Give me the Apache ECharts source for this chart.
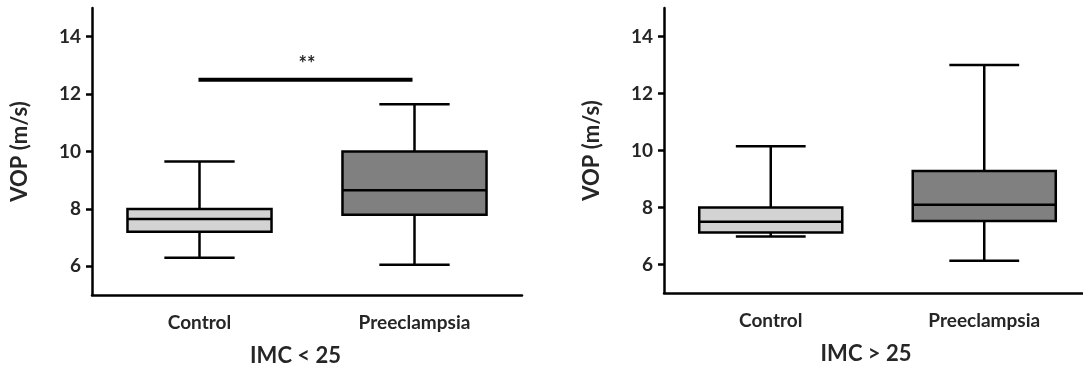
<!DOCTYPE html>
<html><head><meta charset="utf-8">
<script src="https://cdn.jsdelivr.net/npm/echarts@6/dist/echarts.min.js"></script>
<style>html,body{margin:0;padding:0;background:#fff;}#c{width:1083px;height:365px;}</style>
</head><body><div id="c"></div>
<script>
// Data
var categories = ['Control', 'Preeclampsia'];
var yTicks = [6, 8, 10, 12, 14];
var yName = 'VOP (m/s)';
var panelNames = ['IMC < 25', 'IMC > 25'];
// [min, Q1, median, Q3, max]
var leftControl = [6.3, 7.2, 7.65, 8.0, 9.65];
var leftPreeclampsia = [6.05, 7.8, 8.65, 10.0, 11.65];
var rightControl = [6.98, 7.12, 7.5, 8.0, 10.15];
var rightPreeclampsia = [6.13, 7.53, 8.1, 9.28, 13.0];
var boxColors = ['#d3d3d3', '#808080'];
var sigY = 12.5;
var sigLabel = '**';

var FONT = 'Lato';
var TXT = '#262626';
var LW = 2.5;

function boxRender(params, api) {
  var ci = api.value(0);
  var mn = api.coord([ci, api.value(1)]);
  var q1 = api.coord([ci, api.value(2)]);
  var md = api.coord([ci, api.value(3)]);
  var q3 = api.coord([ci, api.value(4)]);
  var mx = api.coord([ci, api.value(5)]);
  var band = api.size([1, 0])[0];
  var bw = band * 0.67, cw = band * 0.327;
  var x = mn[0];
  var ls = {stroke: '#000', lineWidth: LW};
  return {type: 'group', children: [
    {type: 'line', shape: {x1: x, y1: q3[1], x2: x, y2: mx[1]}, style: ls},
    {type: 'line', shape: {x1: x, y1: q1[1], x2: x, y2: mn[1]}, style: ls},
    {type: 'line', shape: {x1: x - cw / 2, y1: mx[1], x2: x + cw / 2, y2: mx[1]}, style: ls},
    {type: 'line', shape: {x1: x - cw / 2, y1: mn[1], x2: x + cw / 2, y2: mn[1]}, style: ls},
    {type: 'rect', shape: {x: x - bw / 2, y: q3[1], width: bw, height: q1[1] - q3[1]},
      style: {fill: boxColors[ci], stroke: '#000', lineWidth: LW}},
    {type: 'line', shape: {x1: x - bw / 2, y1: md[1], x2: x + bw / 2, y2: md[1]}, style: ls}
  ]};
}

function sigRender(params, api) {
  var a = api.coord([api.value(0), api.value(2)]);
  var b = api.coord([api.value(1), api.value(2)]);
  return {type: 'group', children: [
    {type: 'line', shape: {x1: a[0] - 1, y1: a[1], x2: b[0] - 2, y2: b[1]}, style: {stroke: '#000', lineWidth: 4}},
    {type: 'text', x: (a[0] + b[0]) / 2, y: a[1] - 15,
      style: {text: sigLabel, fill: TXT, font: 'bold 20px ' + FONT, align: 'center', verticalAlign: 'middle'}}
  ]};
}

function mkData(c, p) {
  return [[0].concat(c), [1].concat(p)];
}

var axisLine = {lineStyle: {color: '#000', width: LW}};
function xAxis(idx, name) {
  return {
    type: 'category', gridIndex: idx, data: categories, boundaryGap: true,
    axisLine: axisLine,
    axisTick: {alignWithLabel: true, length: 6, lineStyle: {color: '#000', width: LW}},
    axisLabel: {color: TXT, fontFamily: FONT, fontWeight: 'bold', fontSize: 19, margin: 18},
    name: name, nameLocation: 'middle', nameGap: 50,
    nameTextStyle: {color: TXT, fontFamily: FONT, fontWeight: 'bold', fontSize: 22, padding: [0, 23, 0, 0]},
    splitLine: {show: false}
  };
}
function yAxis(idx) {
  return {
    type: 'value', gridIndex: idx, min: 5, max: 15,
    axisLine: {show: true, lineStyle: {color: '#000', width: LW}},
    axisTick: {show: true, length: 6, customValues: yTicks, lineStyle: {color: '#000', width: LW}},
    axisLabel: {color: TXT, fontFamily: FONT, fontWeight: 'bold', fontSize: 19, margin: 11, customValues: yTicks},
    splitLine: {show: false},
    name: yName, nameLocation: 'middle', nameGap: 61, nameRotate: 90,
    nameTextStyle: {color: TXT, fontFamily: FONT, fontWeight: 'bold', fontSize: 22}
  };
}

var chart = echarts.init(document.getElementById('c'), null, {renderer: 'canvas'});
chart.setOption({
  backgroundColor: '#fff',
  animation: false,
  grid: [
    {left: 92, top: 8, width: 430, height: 287, outerBoundsMode: 'none', containLabel: false},
    {left: 664, top: 8, width: 427, height: 285, outerBoundsMode: 'none', containLabel: false}
  ],
  xAxis: [xAxis(0, panelNames[0]), xAxis(1, panelNames[1])],
  yAxis: [yAxis(0), yAxis(1)],
  series: [
    {type: 'custom', xAxisIndex: 0, yAxisIndex: 0, renderItem: boxRender,
      encode: {x: 0, y: [1, 2, 3, 4, 5]}, data: mkData(leftControl, leftPreeclampsia), clip: false},
    {type: 'custom', xAxisIndex: 1, yAxisIndex: 1, renderItem: boxRender,
      encode: {x: 0, y: [1, 2, 3, 4, 5]}, data: mkData(rightControl, rightPreeclampsia), clip: false},
    {type: 'custom', xAxisIndex: 0, yAxisIndex: 0, renderItem: sigRender,
      encode: {x: [0, 1], y: 2}, data: [[0, 1, sigY]], clip: false}
  ]
});
</script></body></html>
